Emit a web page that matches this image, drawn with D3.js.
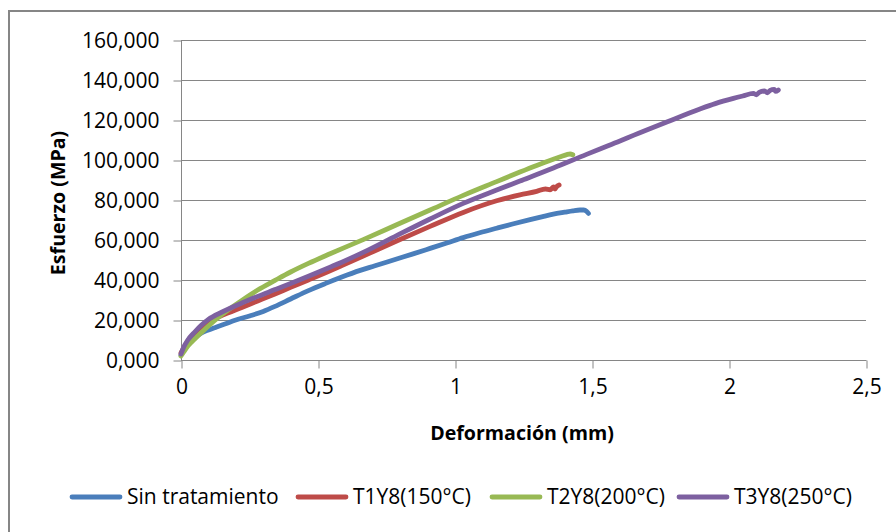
<!DOCTYPE html>
<html><head><meta charset="utf-8">
<script src="https://cdn.jsdelivr.net/npm/d3@7"></script>
<style>
html,body{margin:0;padding:0;background:#fff;}
svg text{font-family:"Open Sans","Liberation Sans",sans-serif;fill:#000;}
</style></head>
<body><svg id="c" width="896" height="532"></svg>
<script>
const seriesNames = ["Sin tratamiento","T1Y8(150°C)","T2Y8(200°C)","T3Y8(250°C)"];
const seriesColors = ["#4A7EBB","#BE4B48","#98B954","#7D60A0"];
const xTicks = [0,0.5,1,1.5,2,2.5];
const yTicks = [0,20,40,60,80,100,120,140,160];

const sinTratamiento = [[0,2.5],[0.01,5],[0.025,8],[0.05,11],[0.075,13.5],[0.1,15],[0.13,16.5],[0.16,18],[0.2,20],[0.25,22],[0.3,24.3],[0.343,26.8],[0.4,30.5],[0.465,34.7],[0.526,38.2],[0.587,41.5],[0.654,44.8],[0.708,47.1],[0.787,50.5],[0.85,53.2],[0.909,55.8],[0.97,58.5],[1.03,61.2],[1.09,63.6],[1.152,65.9],[1.21,68],[1.274,70.2],[1.32,71.7],[1.359,72.9],[1.4,73.9],[1.43,74.6],[1.456,75],[1.47,75],[1.48,74.4],[1.487,73.3]];
const t1y8 = [[0,3.5],[0.01,6],[0.025,9.5],[0.05,13.5],[0.075,16.5],[0.1,19],[0.15,22.3],[0.222,26.3],[0.28,29.5],[0.343,33],[0.4,36.3],[0.465,40],[0.544,44.6],[0.587,47.2],[0.665,52],[0.708,54.6],[0.787,59.5],[0.909,66.8],[1.03,73.8],[1.152,79.6],[1.237,82.6],[1.298,84.3],[1.33,85.5],[1.347,85.1],[1.36,86.5],[1.365,85.5],[1.371,86.7],[1.38,87.5]];
const t2y8 = [[0,2],[0.01,4],[0.025,7],[0.05,10.5],[0.075,13.8],[0.1,17],[0.15,22.8],[0.222,29.8],[0.28,35],[0.343,39.8],[0.4,44],[0.465,48.3],[0.544,53.1],[0.665,60.2],[0.787,67.6],[0.909,75],[1.03,82.3],[1.152,89.2],[1.237,94],[1.298,97.3],[1.359,100.4],[1.39,101.9],[1.408,102.7],[1.42,103],[1.43,102.6]];
const t3y8 = [[0,3],[0.01,6.5],[0.025,10],[0.05,14],[0.075,17.5],[0.1,20.3],[0.15,24],[0.222,28.5],[0.28,31.8],[0.343,35.2],[0.4,38.3],[0.465,41.9],[0.544,46.4],[0.587,48.9],[0.665,53.8],[0.787,62.2],[0.909,70.5],[1.03,78.3],[1.152,85],[1.237,89.5],[1.359,96],[1.48,102.8],[1.529,105.5],[1.602,109.5],[1.651,112.3],[1.773,119],[1.894,125.5],[1.95,128.2],[2.016,130.8],[2.05,132],[2.089,133.3],[2.1,132.6],[2.11,133.8],[2.13,134.5],[2.14,133.6],[2.15,134.8],[2.165,135.3],[2.17,134.3],[2.18,135]];
const allSeries = [sinTratamiento,t1y8,t2y8,t3y8];

const svg = d3.select("#c");
svg.append("rect").attr("x",9).attr("y",11).attr("width",900).attr("height",540)
  .attr("fill","#fff").attr("stroke","#868686").attr("stroke-width",2);

const x = d3.scaleLinear().domain([0,2.5]).range([181,866]);
const y = d3.scaleLinear().domain([0,160]).range([360,40]);

// gridlines
svg.append("g").selectAll("line").data(yTicks).join("line")
  .attr("x1",x(0)).attr("x2",x(2.5)).attr("y1",d=>Math.round(y(d))+0.5).attr("y2",d=>Math.round(y(d))+0.5)
  .attr("stroke","#868686").attr("stroke-width",1);

const yAxis = d3.axisLeft(y).tickValues(yTicks).tickSize(8).tickPadding(14)
  .tickFormat(d => d3.format(".3f")(d).replace(".",","));
const yg = svg.append("g").attr("transform","translate(181.5,0.5)").call(yAxis);
yg.selectAll("path,line").attr("stroke","#868686");
yg.selectAll("text").attr("font-size",21).attr("font-family","Open Sans").attr("fill","#000");
yg.select(".domain").attr("d","M0,"+(y(0))+"V"+y(160));

const xAxis = d3.axisBottom(x).tickValues(xTicks).tickSize(8).tickPadding(11)
  .tickFormat(d => String(d).replace(".",","));
const xg = svg.append("g").attr("transform","translate(0.5,360.5)").call(xAxis);
xg.selectAll("path,line").attr("stroke","#868686");
xg.select(".domain").attr("d","M"+x(0)+",0H"+x(2.5));
xg.selectAll("text").attr("font-size",21).attr("font-family","Open Sans").attr("fill","#000");

// lines
const line = d3.line().x(d=>x(d[0])).y(d=>y(d[1])).curve(d3.curveMonotoneX);
svg.append("g").selectAll("path").data(allSeries).join("path")
  .attr("d",line).attr("fill","none").attr("stroke",(d,i)=>seriesColors[i])
  .attr("stroke-width",4.8).attr("stroke-linejoin","round").attr("stroke-linecap","round");

// axis titles
svg.append("text").attr("x",522).attr("y",440).attr("text-anchor","middle")
  .attr("font-size",19.6).attr("font-weight","bold").text("Deformación (mm)");
svg.append("text").attr("transform","translate(65,203) rotate(-90)").attr("text-anchor","middle")
  .attr("font-size",19.6).attr("font-weight","bold").text("Esfuerzo (MPa)");

// legend
const legendX = [70,296,490,677];
const lg = svg.append("g");
seriesNames.forEach((n,i)=>{
  lg.append("line").attr("x1",legendX[i]+2).attr("x2",legendX[i]+50).attr("y1",497).attr("y2",497)
    .attr("stroke",seriesColors[i]).attr("stroke-width",4.8).attr("stroke-linecap","round");
  lg.append("text").attr("x",legendX[i]+57).attr("y",504).attr("font-size",21).text(n);
});
</script></body></html>
